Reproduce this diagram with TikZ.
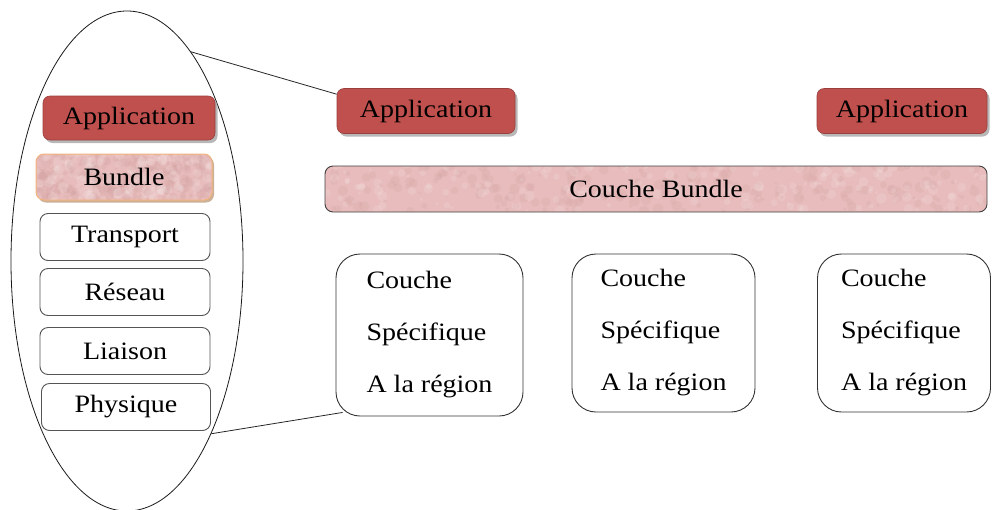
\documentclass[tikz,border=0pt]{standalone}
\usepackage{fontspec}
\setmainfont{Liberation Serif}[FakeStretch=1.12]
\usetikzlibrary{shapes.geometric,shadows,calc}
\definecolor{appred}{HTML}{C0504D}
\definecolor{bundlepink}{HTML}{E8BCBC}
\definecolor{mottledark}{HTML}{C89393}
\definecolor{bundleedge}{HTML}{F2B37A}
\definecolor{boxedge}{HTML}{555555}
\tikzset{
  txt/.style={font=\fontsize{25}{52}\selectfont},
  appbox/.style={txt, rectangle, rounded corners=7pt, fill=appred, draw=appred!80!black,
    line width=0.6pt, inner sep=0pt,
    drop shadow={shadow xshift=2.5pt, shadow yshift=-3pt, fill=black!35, opacity=0.8}},
  layerbox/.style={txt, rectangle, rounded corners=8pt, draw=boxedge, line width=0.9pt,
    fill=white, inner sep=0pt, minimum width=170pt, minimum height=47pt},
  mottled/.style={path picture={
    \pgfmathsetseed{#1}
    \foreach \i in {1,...,420}{
      \pgfmathsetmacro\rx{rnd}\pgfmathsetmacro\ry{rnd}\pgfmathsetmacro\rr{1.5+4*rnd}
      \pgfmathsetmacro\tone{rnd}
      \ifdim\tone pt<0.55pt
        \fill[mottledark, opacity=0.13]
          ($(path picture bounding box.south west)!\rx!(path picture bounding box.south east)+(0,-\ry*50)$)
          circle (\rr pt);
      \else
        \fill[white, opacity=0.13]
          ($(path picture bounding box.south west)!\rx!(path picture bounding box.south east)+(0,-\ry*50)$)
          circle (\rr pt);
      \fi
    }}},
  pinkbox/.style={txt, rectangle, rounded corners=8pt, fill=bundlepink, inner sep=0pt},
  regionbox/.style={txt, rectangle, rounded corners=24pt, draw=black!80, line width=0.9pt,
    fill=white, inner sep=0pt, align=left},
  link/.style={draw=black!85, line width=0.8pt}
}
\begin{document}
\begin{tikzpicture}[x=1pt,y=-1pt]
\useasboundingbox (0,0) rectangle (992,509);

% magnifying ellipse round the protocol stack
\node[ellipse, draw=black!90, line width=0.8pt, inner sep=0pt,
      minimum width=232pt, minimum height=500pt] (ell) at (127,261) {};

% protocol stack
\node[appbox, minimum width=172pt, minimum height=44pt] (lapp) at (129,118) {Application};
\node[pinkbox, mottled=11, draw=bundleedge, line width=1pt, minimum width=176pt, minimum height=46pt,
      drop shadow={shadow xshift=2pt, shadow yshift=-2.5pt, fill=bundleedge!70!black, opacity=0.6}]
      (lbundle) at (124,177) {Bundle};
\node[layerbox] (transport) at (125,237) {Transport};
\node[layerbox] (reseau) at (125,292) {Réseau};
\node[layerbox] (liaison) at (125,351) {Liaison};
\node[layerbox, minimum width=169pt] (physique) at (126,407) {Physique};

% applications and the common bundle layer
\node[appbox, minimum width=178pt, minimum height=45pt] (app1) at (426,111) {Application};
\node[appbox, minimum width=170pt, minimum height=45pt] (app2) at (902,111) {Application};
\node[pinkbox, mottled=5, draw=black!75, line width=0.9pt, minimum width=662pt, minimum height=46pt]
      (cbundle) at (656,189) {Couche Bundle};

% region-specific layers
\node[regionbox, minimum width=187pt, minimum height=162pt] (reg1) at (429.5,335)
      {Couche\\Spécifique\\A la région};
\node[regionbox, minimum width=183pt, minimum height=158pt] (reg2) at (663.5,333)
      {Couche\\Spécifique\\A la région};
\node[regionbox, minimum width=173pt, minimum height=158pt] (reg3) at (904,333)
      {Couche\\Spécifique\\A la région};

% zoom lines
\coordinate (topend) at ([xshift=0pt,yshift=-6pt]app1.north west);
\coordinate (botend) at ([xshift=7pt,yshift=4pt]reg1.south west);
\draw[link] (ell.73) -- (topend);
\draw[link] (ell.-64) -- (botend);
\end{tikzpicture}
\end{document}
